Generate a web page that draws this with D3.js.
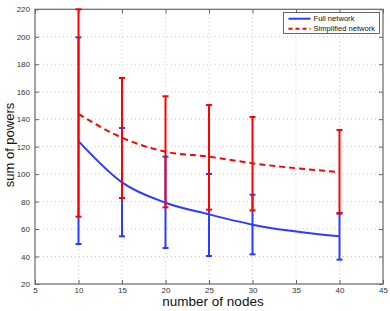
<!DOCTYPE html>
<html>
<head>
<meta charset="utf-8">
<script src="https://cdn.jsdelivr.net/npm/d3@7"></script>
<style>
  body { margin: 0; background: #fff; }
  svg text { font-family: "Liberation Sans", Arial, sans-serif; }
</style>
</head>
<body>
<div id="chart"></div>
<script>
"use strict";

// values
const nodes = [10, 15, 20, 25, 30, 40];
const fullMean = [124, 94, 79.2, 70.7, 63.2, 54.7];
const fullHigh = [199.6, 133.6, 112.7, 100.1, 85, 71.7];
const fullLow = [49.1, 54.7, 46.2, 40.4, 41.6, 37.7];
const simpMean = [143.8, 126.5, 116.3, 112.7, 107.9, 101.5];
const simpHigh = [220, 170, 156.7, 150.3, 141.6, 132.1];
const simpLow = [69, 82.6, 75.8, 74.1, 73.6, 71.2];
const xTicks = [5, 10, 15, 20, 25, 30, 35, 40, 45];
const yTicks = [20, 40, 60, 80, 100, 120, 140, 160, 180, 200, 220];
const legendLabels = ["Full network", "Simplified network"];

const cont = {
    width: 390,
    height: 311,
    left: 35,
    right: 383,
    top: 9.3,
    bottom: 284,
}

const svg = d3.select("#chart").append("svg")
    .attr("width", cont.width)
    .attr("height", cont.height);

const x = d3.scaleLinear().domain([5, 45]).range([cont.left, cont.right]);
const y = d3.scaleLinear().domain([20, 220]).range([cont.bottom, cont.top]);

// grid
svg.append("g").selectAll("line")
    .data(xTicks.slice(1, -1))
    .enter().append("line")
    .attr("x1", d => x(d)).attr("x2", d => x(d))
    .attr("y1", cont.top).attr("y2", cont.bottom)
    .attr("stroke", "#bbb").attr("stroke-width", 0.8)
    .attr("stroke-dasharray", "1,3");
svg.append("g").selectAll("line")
    .data(yTicks.slice(1, -1))
    .enter().append("line")
    .attr("y1", d => y(d)).attr("y2", d => y(d))
    .attr("x1", cont.left).attr("x2", cont.right)
    .attr("stroke", "#bbb").attr("stroke-width", 0.8)
    .attr("stroke-dasharray", "1,3");

// axes (ticks inside, matlab style)
const axisColor = "#666";
function styleAxis(g) {
    g.select(".domain").remove();
    g.selectAll(".tick line").attr("stroke", axisColor);
    g.selectAll(".tick text").attr("fill", "#333").attr("font-size", 8);
}
svg.append("g")
    .attr("transform", "translate(0," + cont.bottom + ")")
    .call(d3.axisBottom(x).tickValues(xTicks).tickSizeInner(-4).tickSizeOuter(0).tickPadding(3.5))
    .call(styleAxis);
svg.append("g")
    .attr("transform", "translate(0," + cont.top + ")")
    .call(d3.axisTop(x).tickValues(xTicks).tickSizeInner(-4).tickSizeOuter(0).tickFormat(""))
    .call(styleAxis);
svg.append("g")
    .attr("transform", "translate(" + cont.left + ",0)")
    .call(d3.axisLeft(y).tickValues(yTicks).tickSizeInner(-4).tickSizeOuter(0).tickPadding(5))
    .call(styleAxis);
svg.append("g")
    .attr("transform", "translate(" + cont.right + ",0)")
    .call(d3.axisRight(y).tickValues(yTicks).tickSizeInner(-4).tickSizeOuter(0).tickFormat(""))
    .call(styleAxis);

svg.append("rect")
    .attr("x", cont.left).attr("y", cont.top)
    .attr("width", cont.right - cont.left).attr("height", cont.bottom - cont.top)
    .attr("fill", "none").attr("stroke", axisColor).attr("stroke-width", 1.2);

function drawSeries(mean, low, high, color, dash) {
    const pts = nodes.map((n, i) => ({ n: n, m: mean[i], lo: low[i], hi: high[i] }));
    const g = svg.append("g");
    g.append("path")
        .datum(pts)
        .attr("fill", "none")
        .attr("stroke", color)
        .attr("stroke-width", 2)
        .attr("stroke-dasharray", dash)
        .attr("d", d3.line().curve(d3.curveMonotoneX).x(d => x(d.n)).y(d => y(d.m)));
    g.selectAll(".bar").data(pts).enter().append("line")
        .attr("x1", d => x(d.n)).attr("x2", d => x(d.n))
        .attr("y1", d => y(d.lo)).attr("y2", d => y(d.hi))
        .attr("stroke", color).attr("stroke-width", 2);
    ["lo", "hi"].forEach(k => {
        g.selectAll(".cap" + k).data(pts).enter().append("line")
            .attr("x1", d => x(d.n) - 3).attr("x2", d => x(d.n) + 3)
            .attr("y1", d => y(d[k])).attr("y2", d => y(d[k]))
            .attr("stroke", color).attr("stroke-width", 2);
    });
}

drawSeries(fullMean, fullLow, fullHigh, "#2a3cff", null);
drawSeries(simpMean, simpLow, simpHigh, "#ff0000", "6,4");

// legend
const lg = svg.append("g").attr("transform", "translate(283.5,12.5)");
lg.append("rect").attr("width", 96).attr("height", 21)
    .attr("fill", "#fff").attr("stroke", "#444").attr("stroke-width", 0.8);
const legendColors = ["#2a3cff", "#ff0000"];
const legendDash = [null, "4,3"];
legendLabels.forEach((t, i) => {
    const yy = 6.2 + i * 10;
    lg.append("line").attr("x1", 5).attr("x2", 27).attr("y1", yy).attr("y2", yy)
        .attr("stroke", legendColors[i]).attr("stroke-width", 2)
        .attr("stroke-dasharray", legendDash[i]);
    lg.append("text").attr("x", 30).attr("y", yy + 2.7)
        .attr("font-size", 7.6).attr("fill", "#111").text(t);
});

// labels
svg.append("text")
    .attr("x", 213).attr("y", 306)
    .attr("text-anchor", "middle").attr("font-size", 13.5).attr("fill", "#111")
    .text("number of nodes");
svg.append("text")
    .attr("transform", "translate(14,145) rotate(-90)")
    .attr("text-anchor", "middle").attr("font-size", 13).attr("fill", "#111")
    .text("sum of powers");
</script>
</body>
</html>
